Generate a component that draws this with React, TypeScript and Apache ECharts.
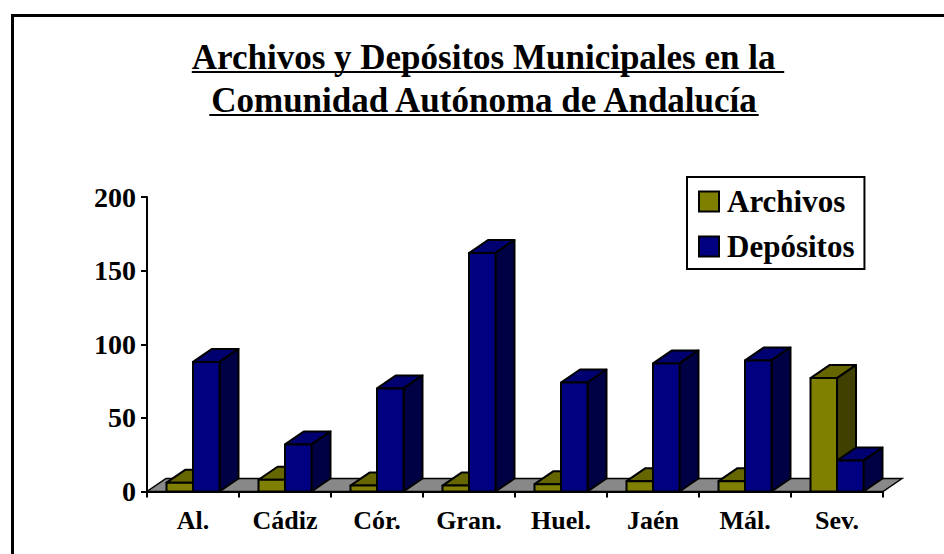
import React, { useEffect, useRef } from "react";
import * as echarts from "echarts";

const categories = ["Al.", "Cádiz", "Cór.", "Gran.", "Huel.", "Jaén", "Mál.", "Sev."];
const archivos = [6, 8, 4, 4, 5, 7, 7, 77];
const depositos = [88, 32, 70, 162, 74, 87, 89, 21];
const yTicks = { min: 0, max: 200, interval: 50 };
const seriesNames = ["Archivos", "Depósitos"];
const titleLines = ["Archivos y Depósitos Municipales en la ", "Comunidad Autónoma de Andalucía"];

const DX = 19;
const DY = 13;
const FONT = "'Liberation Serif', 'Times New Roman', serif";

const olive = { front: "#808000", top: "#666600", side: "#404000" };
const navy = { front: "#000080", top: "#000070", side: "#000045" };

function makeBarRender(side: number, c: { front: string; top: string; side: string }) {
  return (params: any, api: any) => {
    const idx = api.value(0);
    const val = api.value(1);
    const top = api.coord([idx, val]);
    const base = api.coord([idx, 0]);
    const band = api.size([1, 0])[0];
    const w = band * 0.288;
    const x0 = side === 0 ? top[0] - w : top[0];
    const x1 = x0 + w;
    const yT = top[1];
    const yB = base[1];
    const st = { stroke: "#000", lineWidth: 2, lineJoin: "round" };
    return {
      type: "group",
      children: [
        {
          type: "polygon",
          shape: { points: [[x0, yT], [x1, yT], [x1 + DX, yT - DY], [x0 + DX, yT - DY]] },
          style: { fill: c.top, ...st },
        },
        {
          type: "polygon",
          shape: { points: [[x1, yB], [x1 + DX, yB - DY], [x1 + DX, yT - DY], [x1, yT]] },
          style: { fill: c.side, ...st },
        },
        {
          type: "rect",
          shape: { x: x0, y: yT, width: w, height: yB - yT },
          style: { fill: c.front, ...st },
        },
      ],
    };
  };
}

function floorRender(params: any, api: any) {
  const cs = params.coordSys;
  const yb = cs.y + cs.height;
  return {
    type: "polygon",
    shape: {
      points: [
        [cs.x, yb],
        [cs.x + cs.width, yb],
        [cs.x + cs.width + DX, yb - DY],
        [cs.x + DX, yb - DY],
      ],
    },
    style: { fill: "#888888", stroke: "#000", lineWidth: 1.5 },
  };
}

function measure(text: string, font: string) {
  const cv = document.createElement("canvas");
  const ctx = cv.getContext("2d")!;
  ctx.font = font;
  return ctx.measureText(text).width;
}

export default function App() {
  const ref = useRef<HTMLDivElement>(null);
  useEffect(() => {
    if (!ref.current) return;
    const chart = echarts.init(ref.current, undefined, { renderer: "svg" });
    const titleSize = 35;
    const titleFont = `bold ${titleSize}px ${FONT}`;
    const titleCenters = [488, 484];
    const titleYs = [57, 100];
    const graphics: any[] = [
      {
        type: "rect",
        left: 10,
        top: 13,
        shape: { width: 1000, height: 700 },
        style: { fill: "none", stroke: "#000", lineWidth: 3 },
        silent: true,
      },
    ];
    titleLines.forEach((t, i) => {
      const w = measure(t, titleFont);
      graphics.push({
        type: "text",
        x: titleCenters[i],
        y: titleYs[i],
        style: {
          text: t,
          font: titleFont,
          fill: "#000",
          textAlign: "center",
          textVerticalAlign: "middle",
        },
      });
      graphics.push({
        type: "line",
        shape: {
          x1: titleCenters[i] - w / 2,
          y1: titleYs[i] + 15,
          x2: titleCenters[i] + w / 2,
          y2: titleYs[i] + 15,
        },
        style: { stroke: "#000", lineWidth: 2 },
      });
    });

    chart.setOption({
      animation: false,
      backgroundColor: "#fff",
      graphic: graphics,
      legend: {
        data: seriesNames,
        orient: "vertical",
        left: 687,
        top: 177,
        padding: [7, 10, 5, 11],
        itemGap: 10,
        itemWidth: 20,
        itemHeight: 20,
        icon: "rect",
        borderColor: "#000",
        borderWidth: 2,
        itemStyle: { borderColor: "#000", borderWidth: 2 },
        textStyle: {
          fontFamily: FONT,
          fontWeight: "bold",
          fontSize: 31,
          color: "#000",
          lineHeight: 35,
          padding: [0, 0, 0, 3],
        },
      },
      grid: { left: 147, right: 61, top: 197, bottom: 62.5, containLabel: false },
      xAxis: {
        type: "category",
        data: categories,
        boundaryGap: true,
        axisLine: { lineStyle: { color: "#000", width: 2 } },
        axisTick: { show: true, length: 6, lineStyle: { color: "#000", width: 2 } },
        axisLabel: {
          margin: 16,
          fontFamily: FONT,
          fontWeight: "bold",
          fontSize: 26,
          color: "#000",
        },
        splitLine: { show: false },
      },
      yAxis: {
        type: "value",
        min: yTicks.min,
        max: yTicks.max,
        interval: yTicks.interval,
        axisLine: { show: true, lineStyle: { color: "#000", width: 2 } },
        axisTick: { show: true, length: 6, lineStyle: { color: "#000", width: 2 } },
        axisLabel: {
          margin: 11,
          fontFamily: FONT,
          fontWeight: "bold",
          fontSize: 28,
          color: "#000",
        },
        splitLine: { show: false },
      },
      series: [
        {
          name: "floor",
          type: "custom",
          renderItem: floorRender,
          data: [[0, 0]],
          encode: { x: 0, y: 1 },
          silent: true,
        },
        {
          name: seriesNames[0],
          type: "custom",
          renderItem: makeBarRender(0, olive),
          itemStyle: { color: olive.front },
          data: archivos.map((v, i) => [i, v]),
          encode: { x: 0, y: 1 },
        },
        {
          name: seriesNames[1],
          type: "custom",
          renderItem: makeBarRender(1, navy),
          itemStyle: { color: navy.front },
          data: depositos.map((v, i) => [i, v]),
          encode: { x: 0, y: 1 },
        },
      ],
    });
    return () => chart.dispose();
  }, []);
  return (
    <div
      ref={ref}
      style={{ position: "fixed", left: 0, top: 0, width: 944, height: 554, background: "#fff" }}
    />
  );
}
